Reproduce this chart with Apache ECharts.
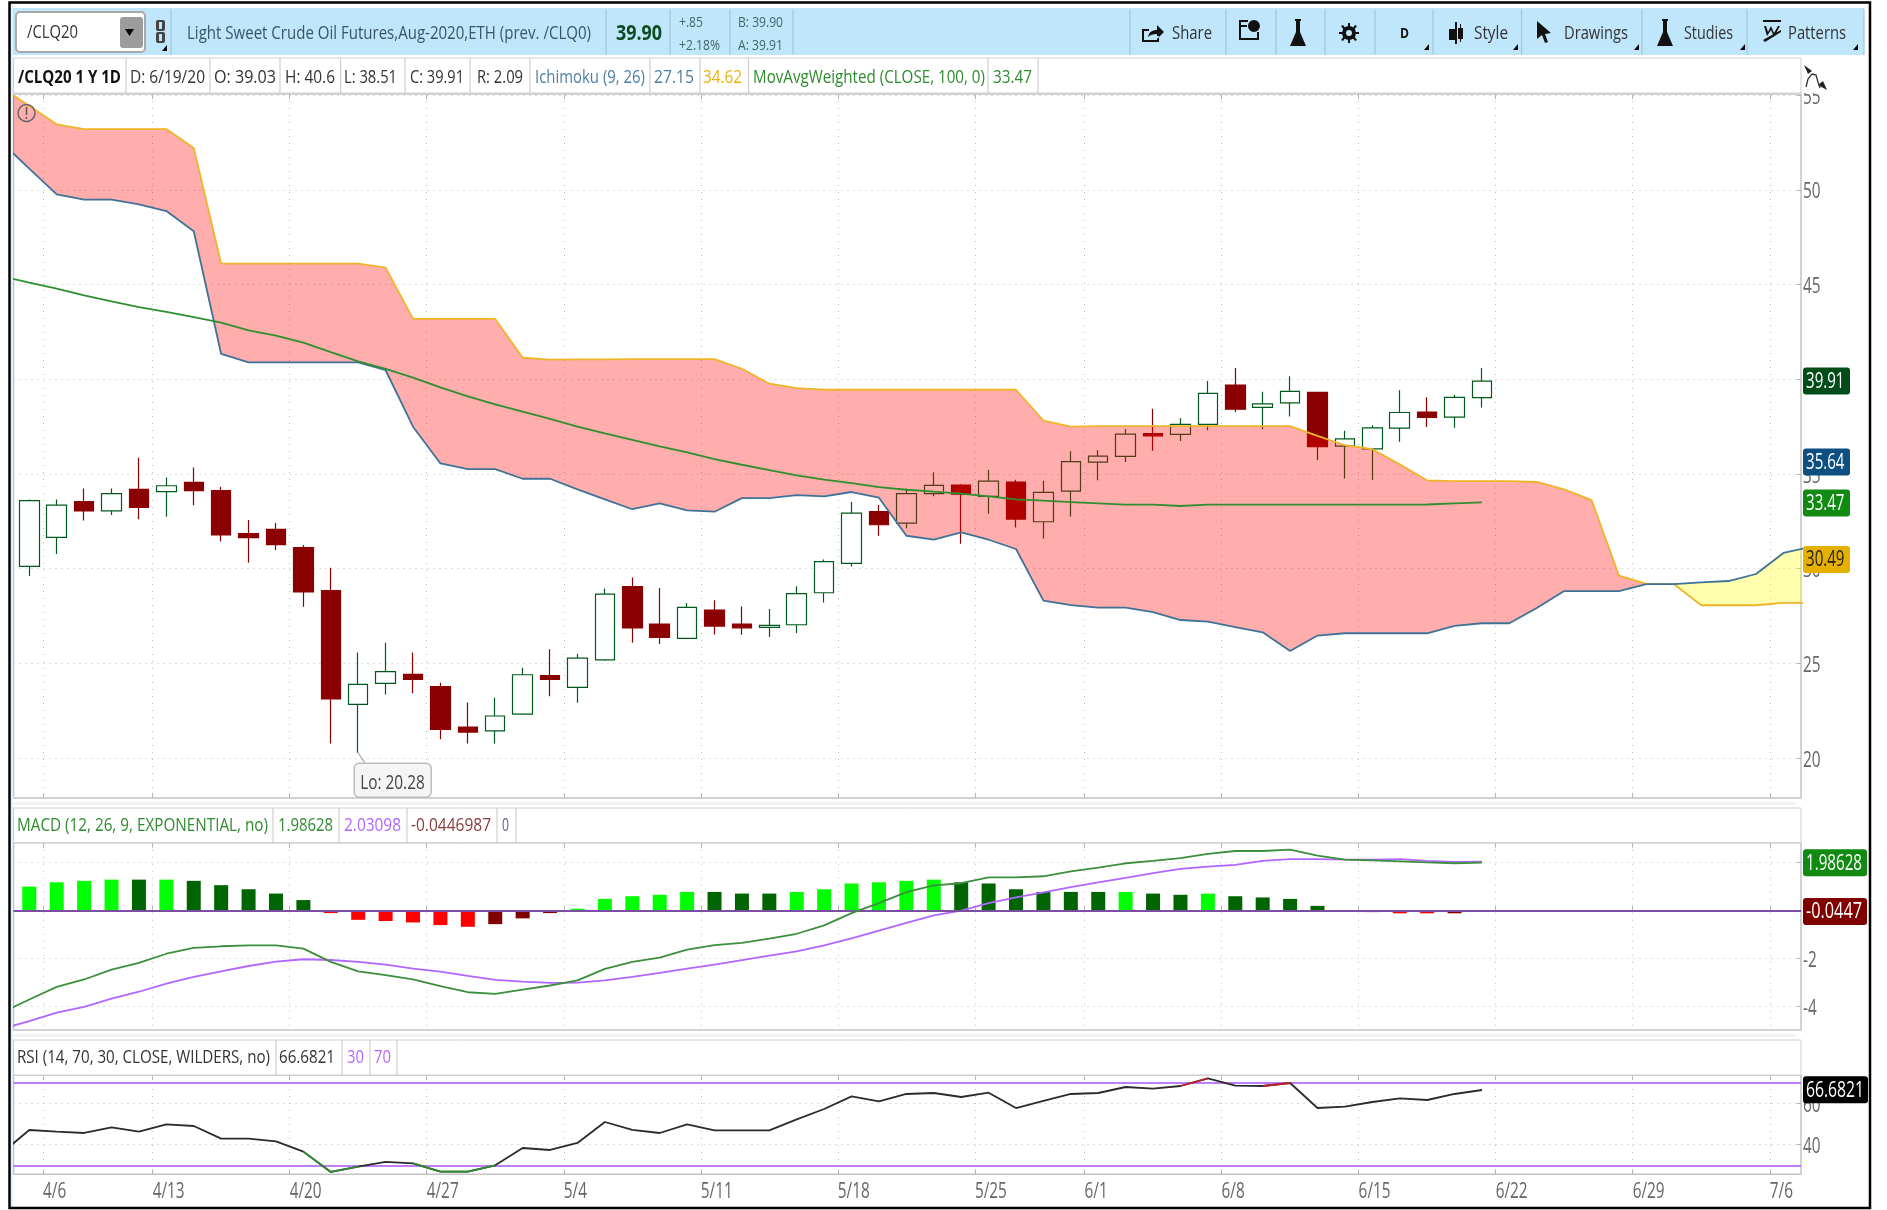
<!DOCTYPE html>
<html>
<head>
<meta charset="utf-8">
<title>/CLQ20 1 Y 1D</title>
<style>
  html, body { margin: 0; padding: 0; background: #fff; }
  #chart { width: 1887px; height: 1210px; }
</style>
<script src="https://cdn.jsdelivr.net/npm/echarts@6/dist/echarts.min.js"></script>
</head>
<body>
<div id="chart"></div>
<script>
// sessions, index 0 is only there so the cloud can run off the left edge
const dates = ['4/2', '4/3', '4/6', '4/7', '4/8', '4/9', '4/13', '4/14', '4/15', '4/16', '4/17', '4/20', '4/21', '4/22', '4/23', '4/24',
  '4/27', '4/28', '4/29', '4/30', '5/1', '5/4', '5/5', '5/6', '5/7', '5/8', '5/11', '5/12', '5/13', '5/14', '5/15', '5/18', '5/19', '5/20', '5/21', '5/22',
  '5/26', '5/27', '5/28', '5/29', '6/1', '6/2', '6/3', '6/4', '6/5', '6/8', '6/9', '6/10', '6/11', '6/12', '6/15', '6/16', '6/17', '6/18', '6/19',
  '6/22', '6/23', '6/24', '6/25', '6/26', '6/29', '6/30', '7/1', '7/2', '7/3', '7/6', '7/7']
const tickIndex = [2, 6, 11, 16, 21, 26, 31, 36, 40, 45, 50, 55, 60, 65]
const tickLabels = ['4/6', '4/13', '4/20', '4/27', '5/4', '5/11', '5/18', '5/25', '6/1', '6/8', '6/15', '6/22', '6/29', '7/6']

// candles start at 4/3 (index 1)
const candleOpen = [30.12, 31.65, 33.54, 33.05, 34.19, 34.07, 34.56, 34.12, 31.85, 32.08, 31.11, 28.84, 22.83, 23.94, 24.42, 23.77, 21.64, 21.44,
  22.32, 24.35, 23.73, 25.19, 29.05, 27.08, 26.32, 27.82, 27.08, 26.90, 27.04, 28.73, 30.28, 33.01, 32.41, 33.96, 34.42, 33.82, 34.58, 32.48, 34.10, 35.63,
  35.93, 37.13, 37.09, 37.62, 39.70, 38.52, 38.76, 39.31, 36.47, 36.33, 37.42, 38.27, 38.00, 39.03]
const candleClose = [33.59, 33.36, 33.05, 33.96, 33.24, 34.38, 34.12, 31.78, 31.64, 31.27, 28.77, 23.12, 23.89, 24.56, 24.15, 21.51, 21.37, 22.22,
  24.40, 24.15, 25.28, 28.66, 26.87, 26.37, 27.96, 26.97, 26.88, 27.01, 28.68, 30.37, 32.94, 32.32, 33.96, 34.40, 33.94, 34.63, 32.62, 34.03, 35.65, 35.95,
  37.11, 37.02, 37.62, 39.26, 38.42, 38.71, 39.36, 36.45, 36.86, 37.44, 38.25, 37.99, 39.05, 39.91]
const candleLow = [29.61, 30.77, 32.54, 32.83, 32.61, 32.75, 33.35, 31.43, 30.32, 30.99, 27.99, 20.77, 20.28, 23.36, 23.42, 20.99, 20.77, 20.77,
  22.29, 23.27, 22.92, 25.14, 26.09, 26.02, 26.30, 26.53, 26.51, 26.39, 26.60, 28.22, 30.12, 31.74, 32.13, 33.82, 31.32, 32.90, 32.18, 31.60, 32.76, 34.67,
  35.63, 36.23, 36.74, 37.31, 38.27, 37.37, 38.04, 35.74, 34.77, 34.68, 36.70, 37.49, 37.44, 38.51]
const candleHigh = [33.66, 33.66, 34.24, 34.24, 35.86, 34.82, 35.35, 34.33, 32.57, 32.41, 31.25, 30.05, 25.58, 26.09, 25.58, 23.98, 22.94, 23.19,
  24.77, 25.74, 25.51, 28.96, 29.54, 28.98, 28.19, 28.33, 28.01, 27.87, 29.07, 30.48, 33.52, 33.38, 34.23, 35.09, 34.47, 35.23, 34.70, 34.65, 36.20, 36.25,
  37.38, 38.45, 37.94, 39.91, 40.60, 39.35, 40.16, 39.31, 37.28, 37.58, 39.43, 39.06, 39.19, 40.60]

// Ichimoku edges and the weighted average, from index 0
const spanOrange = [55.41, 54.44, 53.47, 53.22, 53.22, 53.22, 53.22, 52.22, 46.11, 46.11, 46.11, 46.11, 46.11, 46.11, 45.90, 43.19, 43.19, 43.19, 43.19,
  41.14, 41.04, 41.05, 41.05, 41.07, 41.07, 41.07, 41.07, 40.56, 39.77, 39.54, 39.45, 39.45, 39.45, 39.45, 39.45, 39.45, 39.45, 39.45, 37.82, 37.50,
  37.53, 37.53, 37.53, 37.53, 37.53, 37.53, 37.53, 37.53, 37.01, 36.52, 36.31, 35.51, 34.66, 34.63, 34.63, 34.63, 34.58, 34.19, 33.62, 29.63, 29.20,
  29.19, 28.07, 28.07, 28.07, 28.20, 28.20]
const spanBlue = [52.50, 51.13, 49.77, 49.49, 49.49, 49.24, 48.89, 47.82, 41.34, 40.90, 40.90, 40.90, 40.90, 40.90, 40.48, 37.50, 35.56, 35.26, 35.26,
  34.75, 34.75, 34.19, 33.66, 33.14, 33.45, 33.08, 33.01, 33.73, 33.73, 33.89, 33.82, 34.05, 33.75, 31.74, 31.53, 31.92, 31.53, 31.04, 28.31, 28.08,
  27.94, 27.94, 27.71, 27.29, 27.20, 26.92, 26.64, 25.65, 26.47, 26.59, 26.59, 26.59, 26.59, 26.98, 27.12, 27.12, 27.92, 28.82, 28.82, 28.82, 29.19,
  29.19, 29.28, 29.35, 29.72, 30.83, 31.15]
const movAvg = [45.44, 45.11, 44.79, 44.44, 44.12, 43.82, 43.56, 43.29, 42.99, 42.59, 42.31, 41.94, 41.44, 40.95, 40.55, 40.09, 39.58, 39.10, 38.68, 38.29,
  37.91, 37.50, 37.15, 36.81, 36.46, 36.14, 35.79, 35.49, 35.21, 34.93, 34.70, 34.52, 34.31, 34.17, 34.07, 33.96, 33.82, 33.66, 33.59, 33.52, 33.45,
  33.38, 33.38, 33.31, 33.38, 33.38, 33.38, 33.38, 33.38, 33.38, 33.38, 33.38, 33.39, 33.45, 33.50]

// MACD, lines from index 0, histogram from index 1
const macdValue = [-4.25, -3.70, -3.18, -2.87, -2.46, -2.18, -1.80, -1.56, -1.49, -1.45, -1.45, -1.59, -2.14, -2.53, -2.69, -2.87, -3.15, -3.40, -3.47, -3.29,
  -3.12, -2.91, -2.43, -2.14, -1.96, -1.63, -1.44, -1.35, -1.17, -0.97, -0.62, -0.11, 0.30, 0.76, 1.04, 1.13, 1.37, 1.37, 1.42, 1.62, 1.78, 1.96, 2.06,
  2.17, 2.35, 2.47, 2.47, 2.53, 2.28, 2.11, 2.08, 2.04, 2.00, 1.96, 1.986]
const macdAvg = [-4.92, -4.60, -4.25, -4.01, -3.67, -3.38, -3.04, -2.76, -2.53, -2.31, -2.13, -2.03, -2.06, -2.14, -2.25, -2.42, -2.54, -2.72, -2.89, -2.96,
  -3.01, -3.00, -2.91, -2.76, -2.60, -2.42, -2.25, -2.07, -1.88, -1.70, -1.45, -1.16, -0.84, -0.52, -0.21, -0.01, 0.30, 0.54, 0.75, 0.97, 1.17, 1.35, 1.55,
  1.73, 1.82, 1.89, 2.06, 2.13, 2.13, 2.11, 2.11, 2.13, 2.06, 2.02, 2.03]
const macdDiff = [0.99, 1.17, 1.23, 1.28, 1.28, 1.28, 1.23, 1.05, 0.88, 0.70, 0.43, -0.11, -0.39, -0.44, -0.50, -0.61, -0.68, -0.57, -0.33, -0.11,
  0.07, 0.48, 0.59, 0.65, 0.77, 0.77, 0.70, 0.70, 0.77, 0.88, 1.12, 1.17, 1.23, 1.28, 1.17, 1.12, 0.88, 0.77, 0.77, 0.77, 0.77, 0.70, 0.65, 0.70,
  0.59, 0.54, 0.48, 0.19, 0.01, -0.07, -0.12, -0.12, -0.12, -0.0447]
// 1 = histogram rose on the day, 0 = fell
const macdRising = [1, 1, 1, 1, 0, 1, 0, 0, 0, 0, 0, 0, 0, 0, 0, 0, 0, 1, 1, 1,
  1, 1, 1, 1, 1, 0, 0, 0, 1, 1, 1, 1, 1, 1, 0, 0, 0, 0, 0, 0, 1, 0, 0, 1,
  0, 0, 0, 0, 0, 0, 0, 0, 1, 1]

// RSI from index 0
const rsiValue = [36.0, 47.17, 46.36, 45.71, 48.46, 46.36, 49.92, 49.11, 42.96, 42.96, 41.66, 36.64, 26.76, 29.35, 31.62, 30.97, 26.92, 26.92, 30.0, 38.42,
  37.45, 40.85, 51.05, 47.17, 45.71, 49.92, 47.0, 47.0, 47.0, 52.35, 57.37, 63.52, 61.09, 64.66, 65.14, 63.2, 65.3, 57.85, 61.26, 64.66, 65.14, 68.06,
  67.25, 68.54, 72.27, 68.7, 68.54, 70.0, 57.85, 58.5, 60.77, 62.55, 61.74, 64.66, 66.6]
// sessions where the RSI line is drawn green (oversold) or red (overbought)
const rsiOversold = [11, 12, 13, 15, 16, 17, 18]
const rsiOverbought = [43, 44, 46, 47]

const priceTicks = [20, 25, 30, 35, 40, 45, 50, 55]
const macdTicks = [-4, -2, 0, 2]
const rsiTicks = [40, 60]
const priceTags = [39.91, 35.64, 33.47, 30.49]
const macdTags = [1.98628, -0.0447]
const rsiTags = [66.6821]

const X_MIN = 0.4235
const X_MAX = 65.64
const GRID_COLOR = '#bdbdbd'
const BORDER_COLOR = '#c4c4c4'
const HEADER_BLUE = '#bfe6fb'
const SQUEEZE = 0.73 // the source screenshot has all its text squeezed sideways

const toPoints = (values, start = 0) => values.map((v, i) => [start + i, v])
const weekTicks = tickIndex.map(i => i - 0.5)
const rsiOnly = indexes => rsiValue.map((v, i) => (indexes.includes(i) ? v : null))

const measure = document.createElement('canvas').getContext('2d')

function text(str, x0, x1, cy, color, size = 19, weight = 'normal') {
  const font = `${weight} ${size}px "Open Sans"`
  measure.font = font
  return {
    type: 'text', z: 50, x: x0, y: cy, scaleX: (x1 - x0) / measure.measureText(str).width,
    style: { text: str, font, fill: color, textVerticalAlign: 'middle', verticalAlign: 'middle' }
  }
}
function axisText(str, x0, cy, color = '#666') {
  const font = '21px "Open Sans"'
  return {
    type: 'text', x: x0, y: cy, scaleX: SQUEEZE,
    style: { text: str, font, fill: color, textVerticalAlign: 'middle', verticalAlign: 'middle' }
  }
}

function xAxisFor(gridIndex, position) {
  return {
    type: 'value',
    gridIndex,
    position,
    min: X_MIN,
    max: X_MAX,
    axisLine: { show: false },
    axisTick: { show: true, inside: true, length: 5, customValues: weekTicks, lineStyle: { color: '#b5b5b5' } },
    axisLabel: { show: false, customValues: weekTicks },
    splitLine: {
      show: position === 'bottom',
      lineStyle: { color: GRID_COLOR, type: [1, 6] }
    }
  }
}

function yAxisFor(gridIndex, min, max, ticks) {
  return {
    type: 'value',
    gridIndex,
    position: 'right',
    min,
    max,
    axisLine: { show: false },
    axisTick: { show: true, inside: true, length: 4, customValues: ticks, lineStyle: { color: '#b5b5b5' } },
    axisLabel: { show: false, customValues: ticks },
    splitLine: { lineStyle: { color: GRID_COLOR, type: [1, 5] } }
  }
}

function lineSeries(name, values, color, axis, z, extra) {
  return Object.assign({
    name,
    type: 'line',
    data: toPoints(values),
    xAxisIndex: axis,
    yAxisIndex: axis,
    showSymbol: false,
    silent: true,
    z,
    lineStyle: { color, width: 1.8 }
  }, extra)
}

// one polygon between the two cloud edges, from index a to index b
function cloudSeries(name, a, b, upper, lower, fill) {
  return {
    name,
    type: 'custom',
    xAxisIndex: 0,
    yAxisIndex: 0,
    clip: true,
    silent: true,
    z: 4,
    data: [[a, upper[a]]],
    renderItem: (params, api) => {
      const points = []
      for (let i = a; i <= b; i++) points.push(api.coord([i, upper[i]]))
      for (let i = b; i >= a; i--) points.push(api.coord([i, lower[i]]))
      return { type: 'polygon', shape: { points }, style: { fill } }
    }
  }
}

// squeezed tick labels, placed through the axes
function yLabelSeries(axis, ticks) {
  return {
    name: 'yLabels' + axis,
    type: 'custom',
    xAxisIndex: axis,
    yAxisIndex: axis,
    silent: true,
    z: 15,
    data: ticks.map(v => [X_MAX, v]),
    renderItem: (params, api) => {
      const p = api.coord([api.value(0), api.value(1)])
      return axisText(String(api.value(1)), p[0] + 2, p[1] + 2.5)
    }
  }
}

function xLabelSeries(axis, yValue) {
  return {
    name: 'xLabels',
    type: 'custom',
    xAxisIndex: axis,
    yAxisIndex: axis,
    silent: true,
    z: 15,
    data: weekTicks.map(v => [v, yValue]),
    renderItem: (params, api) => {
      const p = api.coord([api.value(0), api.value(1)])
      return axisText(tickLabels[params.dataIndex], p[0], p[1] + 18)
    }
  }
}

// coloured value tags on the price scale
function tagSeries(axis, values, colors, textColors, boxWidth, textWidth) {
  return {
    name: 'tags' + axis,
    type: 'custom',
    xAxisIndex: axis,
    yAxisIndex: axis,
    silent: true,
    z: 20,
    data: values.map(v => [X_MAX, v]),
    renderItem: (params, api) => {
      const p = api.coord([api.value(0), api.value(1)])
      const i = params.dataIndex
      return {
        type: 'group',
        children: [
          { type: 'rect', shape: { x: p[0] + 2, y: p[1] - 13.5, width: boxWidth, height: 27, r: 3 }, style: { fill: colors[i] } },
          text(String(values[i]), p[0] + 5, p[0] + 5 + textWidth, p[1] + 1, textColors[i], 21)
        ]
      }
    }
  }
}

function macdColor(v, i) {
  if (v >= 0) return macdRising[i] ? '#00ff00' : '#006400'
  return macdRising[i] ? '#800000' : '#ff0000'
}

// ---- page furniture ----
const box = (x, y, w, h, fill, stroke, r = 0, lineWidth = 1) => ({
  type: 'rect', z: 40, shape: { x, y, width: w, height: h, r },
  style: { fill: fill || 'none', stroke: stroke || 'none', lineWidth }
})
const sep = (x, y0, y1, color) => ({
  type: 'line', z: 45, shape: { x1: x, y1: y0, x2: x, y2: y1 }, style: { stroke: color, lineWidth: 1.2 }
})
const corner = (x, y) => ({
  type: 'polygon', z: 50, shape: { points: [[x, y + 6], [x + 5, y + 6], [x + 5, y]] }, style: { fill: '#000' }
})
// the graphic component has no plain path type, so each icon gets its own registered shape
let iconCount = 0
function icon(x, y, pathData, fill = '#111') {
  const name = 'toolbarIcon' + (iconCount++)
  echarts.graphic.registerShape(name, echarts.graphic.extendPath(pathData))
  return { type: name, z: 50, x, y, style: { fill } }
}

const HEAD_LINE = '#9fc8de'
const LEGEND_LINE = '#cfcfcf'

const furniture = [
  // toolbar
  box(11, 8, 1853, 47, HEADER_BLUE),
  box(16, 12, 129, 40, '#fff', '#a9a9a9', 4, 2),
  box(120, 17, 23, 31, '#9c9c9c', null, 3),
  { type: 'polygon', z: 50, shape: { points: [[125, 29], [134, 29], [129.5, 36]] }, style: { fill: '#000' } },
  text('/CLQ20', 27, 78, 33, '#333', 19),
  icon(156, 20, 'M2 0h5a2 2 0 0 1 2 2v7a2 2 0 0 1-2 2H2a2 2 0 0 1-2-2V2a2 2 0 0 1 2-2z M3 2v7h3V2z M2 12h5a2 2 0 0 1 2 2v7a2 2 0 0 1-2 2H2a2 2 0 0 1-2-2v-7a2 2 0 0 1 2-2z M3 14v7h3v-7z', '#444'),
  corner(162, 45),
  text('Light Sweet Crude Oil Futures,Aug-2020,ETH (prev. /CLQ0)', 187, 591, 34, '#3a5566', 19),
  text('39.90', 616, 662, 34, '#0c4a22', 22, 'bold'),
  text('+.85', 679, 703, 23, '#466', 15),
  text('+2.18%', 679, 720, 46, '#466', 15),
  text('B: 39.90', 738, 783, 23, '#466', 15),
  text('A: 39.91', 738, 783, 46, '#466', 15),
  ...[171, 606, 670, 730, 793, 1130, 1226, 1276, 1325, 1375, 1433, 1521.5, 1642, 1747, 1864].map(x => sep(x, 9, 55, HEAD_LINE)),
  icon(1142, 23, 'M0 6v13h17v-6h-2v4H2V8h5V6z M6 14c1-5 4-7 9-7V2l7 7-7 7v-5c-4 0-7 1-9 3z'),
  text('Share', 1172, 1212, 34, '#333', 19),
  icon(1239, 20, 'M0 0h9v2H2v3h6v2H2v11h16v-6h2v8H0z M15 0a6 6 0 1 1-.1 0z'),
  icon(1290, 19, 'M5 0h6v2h-1v11l6 14H0L6 13V2H5z'),
  { type: 'ring', z: 50, shape: { cx: 1349, cy: 33, r: 7, r0: 3 }, style: { fill: '#111' } },
  icon(1339, 23, 'M9 0h2v5H9z M9 15h2v5H9z M0 9h5v2H0z M15 9h5v2h-5z M2 3l2-1 3 4-2 1z M13 14l2-1 3 4-2 1z M2 17l3-4 2 1-3 4z M13 6l3-4 2 1-3 4z'),
  text('D', 1400, 1409, 34, '#111', 15, 'bold'),
  corner(1424, 44),
  icon(1449, 22, 'M6 0h2v22H6z M0 7h6v11H0z M11 2h1v18h-1z M9 6h5v11H9z'),
  text('Style', 1474, 1508, 34, '#333', 19),
  corner(1513, 44),
  icon(1537, 21, 'M0 0l14 12-6 1 3 8-3 1-3-8-5 4z'),
  text('Drawings', 1564, 1628, 34, '#333', 19),
  corner(1634, 44),
  icon(1657, 19, 'M5 0h6v2h-1v11l6 14H0L6 13V2H5z'),
  text('Studies', 1684, 1733, 34, '#333', 19),
  corner(1740, 44),
  icon(1763, 20, 'M0 0h18v2H0z M0 20L18 10v2L2 22z M1 6h2l2 6 3-6 3 7 4-7h2l-6 11-3-7-4 6z'),
  text('Patterns', 1788, 1846, 34, '#333', 19),
  corner(1853, 44),

  // main legend row
  box(13.5, 58, 1787.5, 35, '#fff', LEGEND_LINE),
  box(1802, 56, 60, 37, '#fff'),
  text('/CLQ20 1 Y 1D', 18, 121, 78, '#111', 18, 'bold'),
  text('D: 6/19/20', 130, 205, 78, '#333'),
  text('O: 39.03', 214, 276, 78, '#333'),
  text('H: 40.6', 285, 335, 78, '#333'),
  text('L: 38.51', 344, 397, 78, '#333'),
  text('C: 39.91', 410, 464, 78, '#333'),
  text('R: 2.09', 477, 523, 78, '#333'),
  text('Ichimoku (9, 26)', 535, 645, 78, '#4a7ea6'),
  text('27.15', 654, 694, 78, '#4a7ea6'),
  text('34.62', 703, 742, 78, '#eab308'),
  text('MovAvgWeighted (CLOSE, 100, 0)', 753, 985, 78, '#2e8b2e'),
  text('33.47', 993, 1032, 78, '#2e8b2e'),
  ...[126, 210, 280, 340.6, 405, 470, 530, 650, 700, 748.5, 988, 1038].map(x => sep(x, 58, 93, LEGEND_LINE)),
  // curve icon at the end of the row
  { type: 'polygon', z: 50, shape: { points: [[1804, 65], [1812, 71], [1808, 74]] }, style: { fill: '#222' } },
  { type: 'polygon', z: 50, shape: { points: [[1827, 90], [1818, 85], [1823, 81]] }, style: { fill: '#222' } },
  { type: 'polyline', z: 50, shape: { points: [[1806, 87], [1808, 79], [1812, 74], [1816, 75], [1818, 82], [1820, 88]] }, style: { fill: 'none', stroke: '#333', lineWidth: 1.3 } },

  // MACD legend row
  box(13.5, 802, 1782, 3, '#f2f2f2'),
  box(13.5, 808, 1787.5, 34.7, '#fff', LEGEND_LINE),
  text('MACD (12, 26, 9, EXPONENTIAL, no)', 17, 268, 826, '#2e8b2e'),
  text('1.98628', 278, 333, 826, '#2e8b2e'),
  text('2.03098', 344, 401, 826, '#b266ff'),
  text('-0.0446987', 411, 491, 826, '#8b3a3a'),
  text('0', 502, 509, 826, '#5a5aa0'),
  ...[273, 339, 407, 497, 516].map(x => sep(x, 808, 842.7, LEGEND_LINE)),

  // RSI legend row
  box(13.5, 1034, 1782, 3, '#f2f2f2'),
  box(13.5, 1040, 1787.5, 35, '#fff', LEGEND_LINE),
  text('RSI (14, 70, 30, CLOSE, WILDERS, no)', 17, 270, 1058, '#333'),
  text('66.6821', 279, 335, 1058, '#333'),
  text('30', 347, 364, 1058, '#b266ff'),
  text('70', 374, 391, 1058, '#b266ff'),
  ...[276, 342, 370, 397].map(x => sep(x, 1040, 1075, LEGEND_LINE)),

  // warning mark and outer frame
  { type: 'circle', z: 50, shape: { cx: 26.5, cy: 113, r: 8.5 }, style: { fill: 'none', stroke: '#666', lineWidth: 1.5 } },
  { type: 'line', z: 50, shape: { x1: 26.5, y1: 107, x2: 26.5, y2: 115 }, style: { stroke: '#555', lineWidth: 1.5 } },
  { type: 'line', z: 50, shape: { x1: 26.5, y1: 117, x2: 26.5, y2: 119 }, style: { stroke: '#555', lineWidth: 1.5 } },
  box(10.5, 3, 2.5, 1204, '#dff2fd'),
  box(9.5, 2.5, 1860.5, 1205.5, null, '#000', 0, 2.5)
]

const chart = echarts.init(document.getElementById('chart'), null, { renderer: 'canvas' })

chart.setOption({
  animation: false,
  backgroundColor: '#fff',
  grid: [
    { left: 13.5, right: 86, top: 94, height: 704, show: true, borderColor: BORDER_COLOR, borderWidth: 1.5, backgroundColor: '#fff' },
    { left: 13.5, right: 86, top: 842.7, height: 187.3, show: true, borderColor: BORDER_COLOR, borderWidth: 1.5, backgroundColor: '#fff' },
    { left: 13.5, right: 86, top: 1075, height: 99.3, show: true, borderColor: BORDER_COLOR, borderWidth: 1.5, backgroundColor: '#fff' }
  ],
  xAxis: [
    xAxisFor(0, 'bottom'),
    xAxisFor(1, 'bottom'),
    xAxisFor(2, 'bottom'),
    xAxisFor(0, 'top'),
    xAxisFor(1, 'top'),
    xAxisFor(2, 'top')
  ],
  yAxis: [
    yAxisFor(0, 17.89, 55.07, priceTicks),
    yAxisFor(1, -4.97, 2.815, macdTicks),
    yAxisFor(2, 25.63, 73.89, rsiTicks)
  ],
  series: [
    {
      name: 'price',
      type: 'candlestick',
      xAxisIndex: 0,
      yAxisIndex: 0,
      barWidth: 20,
      silent: true,
      z: 2,
      encode: { x: 0, y: [1, 2, 3, 4] },
      data: candleOpen.map((o, i) => [i + 1, o, candleClose[i], candleLow[i], candleHigh[i]]),
      itemStyle: {
        color: '#fff',
        color0: '#8b0000',
        borderColor: '#00591c',
        borderColor0: '#8b0000',
        borderWidth: 1.2
      }
    },
    // the cloud is see-through and sits over the candles
    cloudSeries('cloudDown', 0, 60, spanOrange, spanBlue, 'rgba(255, 0, 0, 0.32)'),
    cloudSeries('cloudUp', 60, 66, spanBlue, spanOrange, 'rgba(255, 255, 0, 0.32)'),
    lineSeries('spanOrange', spanOrange, '#f0b429', 0, 5),
    lineSeries('spanBlue', spanBlue, '#3f7296', 0, 5),
    lineSeries('movAvg', movAvg, '#2f8f2f', 0, 6),
    {
      name: 'lowCallout',
      type: 'line',
      xAxisIndex: 0,
      yAxisIndex: 0,
      silent: true,
      z: 7,
      showSymbol: false,
      lineStyle: { color: '#a8a8a8', width: 1.2 },
      data: [[13, 20.28], [13.25, 19.72]]
    },
    {
      name: 'lowLabel',
      type: 'custom',
      xAxisIndex: 0,
      yAxisIndex: 0,
      silent: true,
      z: 8,
      data: [[13, 20.28]],
      renderItem: (params, api) => {
        const p = api.coord([api.value(0), api.value(1)])
        return {
          type: 'group',
          children: [
            { type: 'rect', shape: { x: p[0] - 4, y: p[1] + 10.5, width: 77, height: 34, r: 5 }, style: { fill: '#f5f5f5', stroke: '#bcbcbc', lineWidth: 1.5 } },
            text('Lo: 20.28', p[0] + 2, p[0] + 66.5, p[1] + 30.5, '#444', 20)
          ]
        }
      }
    },
    {
      name: 'macdDiff',
      type: 'bar',
      xAxisIndex: 1,
      yAxisIndex: 1,
      barWidth: 14,
      silent: true,
      z: 2,
      data: macdDiff.map((v, i) => ({ value: [i + 1, v], itemStyle: { color: macdColor(v, i) } })),
      markLine: {
        silent: true,
        symbol: 'none',
        animation: false,
        label: { show: false },
        lineStyle: { color: '#7b4ea3', width: 2, type: 'solid' },
        data: [{ yAxis: 0 }]
      }
    },
    lineSeries('macdAvg', macdAvg, '#b266ff', 1, 4),
    lineSeries('macdValue', macdValue, '#3c8f3c', 1, 5),
    lineSeries('rsi', rsiValue, '#2b2b2b', 2, 5, {
      markLine: {
        silent: true,
        symbol: 'none',
        animation: false,
        label: { show: false },
        lineStyle: { color: '#a855f7', width: 1.6, type: 'solid' },
        data: [{ yAxis: 70 }, { yAxis: 30 }]
      }
    }),
    lineSeries('rsiOversold', rsiOnly(rsiOversold), '#2e8b2e', 2, 6),
    lineSeries('rsiOverbought', rsiOnly(rsiOverbought), '#c0202a', 2, 6),
    yLabelSeries(0, priceTicks),
    yLabelSeries(1, macdTicks),
    yLabelSeries(2, rsiTicks),
    xLabelSeries(2, 25.63),
    tagSeries(0, priceTags, ['#004d1a', '#0d4f80', '#118a11', '#e6b000'], ['#fff', '#fff', '#fff', '#222'], 47, 38.5),
    tagSeries(1, macdTags, ['#118a11', '#800000'], ['#fff', '#fff'], 64, 56),
    tagSeries(2, rsiTags, ['#000'], ['#fff'], 65, 58)
  ],
  graphic: { elements: furniture }
})

window.addEventListener('resize', () => {
  chart.resize()
})
</script>
</body>
</html>
